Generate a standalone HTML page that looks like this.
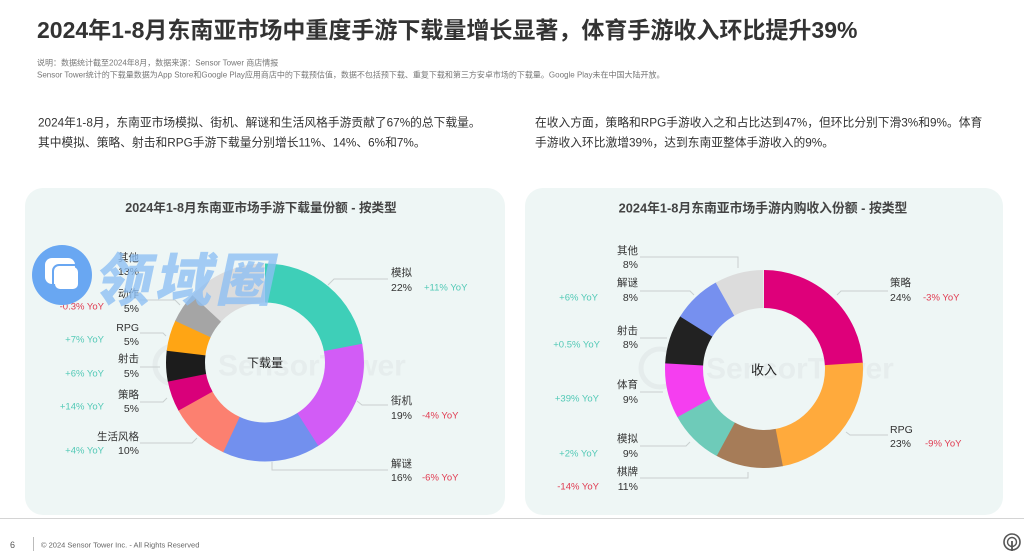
<!DOCTYPE html>
<html><head><meta charset="utf-8"><style>
html,body{margin:0;padding:0;background:#fff;}
body{width:1024px;height:551px;overflow:hidden;position:relative;font-family:"Liberation Sans","Noto Sans CJK SC",sans-serif;}
svg text{font-family:"Liberation Sans","Noto Sans CJK SC",sans-serif;}
.t{font-size:10.5px;fill:#333;}
.g{font-size:9.5px;fill:#52c9b6;}
.r{font-size:9.5px;fill:#e03a50;}
.ln{stroke:#c9cfcf;stroke-width:1;fill:none;}
</style></head><body>
<svg width="1024" height="551" viewBox="0 0 1024 551" xmlns="http://www.w3.org/2000/svg">
<!-- header -->
<text x="37" y="30" dominant-baseline="central" style="font-size:23px;font-weight:bold;fill:#333;">2024年1-8月东南亚市场中重度手游下载量增长显著，体育手游收入环比提升39%</text>
<text x="37" y="63" dominant-baseline="central" style="font-size:8px;fill:#777;">说明：数据统计截至2024年8月，数据来源：Sensor Tower 商店情报</text>
<text x="37" y="75" dominant-baseline="central" style="font-size:8px;fill:#777;">Sensor Tower统计的下载量数据为App Store和Google Play应用商店中的下载预估值，数据不包括预下载、重复下载和第三方安卓市场的下载量。Google Play未在中国大陆开放。</text>

<text x="38" y="123" dominant-baseline="central" style="font-size:11.75px;fill:#333;">2024年1-8月，东南亚市场模拟、街机、解谜和生活风格手游贡献了67%的总下载量。</text>
<text x="38" y="143" dominant-baseline="central" style="font-size:11.75px;fill:#333;">其中模拟、策略、射击和RPG手游下载量分别增长11%、14%、6%和7%。</text>
<text x="535" y="123" dominant-baseline="central" style="font-size:11.75px;fill:#333;">在收入方面，策略和RPG手游收入之和占比达到47%，但环比分别下滑3%和9%。体育</text>
<text x="535" y="143" dominant-baseline="central" style="font-size:11.75px;fill:#333;">手游收入环比激增39%，达到东南亚整体手游收入的9%。</text>

<!-- cards -->
<rect x="25" y="188" width="480" height="327" rx="18" fill="#eef6f5"/>
<rect x="525" y="188" width="478" height="327" rx="18" fill="#eef6f5"/>
<text x="261" y="208" text-anchor="middle" dominant-baseline="central" style="font-size:12.6px;font-weight:bold;fill:#444;">2024年1-8月东南亚市场手游下载量份额 - 按类型</text>
<text x="763" y="208" text-anchor="middle" dominant-baseline="central" style="font-size:12.8px;font-weight:bold;fill:#444;">2024年1-8月东南亚市场手游内购收入份额 - 按类型</text>

<!-- faint Sensor Tower watermarks -->
<circle cx="174" cy="365" r="19" fill="none" stroke="#e5ecec" stroke-width="5"/>
<text x="218" y="366" dominant-baseline="central" style="font-size:30px;font-weight:bold;fill:#e6eded;">SensorTower</text>
<circle cx="660" cy="368" r="19" fill="none" stroke="#e5ecec" stroke-width="5"/>
<text x="706" y="369" dominant-baseline="central" style="font-size:30px;font-weight:bold;fill:#e6eded;">SensorTower</text>

<!-- left donut -->
<g transform="rotate(-90 265 362.5)" fill="none" stroke-width="39">
<circle cx="265" cy="362.5" r="79.5" pathLength="100" stroke="#3ecfb8" stroke-dasharray="22.1 100" stroke-dashoffset="0"/>
<circle cx="265" cy="362.5" r="79.5" pathLength="100" stroke="#d25cf6" stroke-dasharray="19.1 100" stroke-dashoffset="-22"/>
<circle cx="265" cy="362.5" r="79.5" pathLength="100" stroke="#7290ee" stroke-dasharray="16.1 100" stroke-dashoffset="-41"/>
<circle cx="265" cy="362.5" r="79.5" pathLength="100" stroke="#fc8070" stroke-dasharray="10.1 100" stroke-dashoffset="-57"/>
<circle cx="265" cy="362.5" r="79.5" pathLength="100" stroke="#d9007a" stroke-dasharray="5.1 100" stroke-dashoffset="-67"/>
<circle cx="265" cy="362.5" r="79.5" pathLength="100" stroke="#1c1c1c" stroke-dasharray="5.1 100" stroke-dashoffset="-72"/>
<circle cx="265" cy="362.5" r="79.5" pathLength="100" stroke="#ffa514" stroke-dasharray="5.1 100" stroke-dashoffset="-77"/>
<circle cx="265" cy="362.5" r="79.5" pathLength="100" stroke="#a5a5a5" stroke-dasharray="5.1 100" stroke-dashoffset="-82"/>
<circle cx="265" cy="362.5" r="79.5" pathLength="100" stroke="#dcdcdc" stroke-dasharray="13 100" stroke-dashoffset="-87"/>
</g>
<text x="265" y="363" text-anchor="middle" dominant-baseline="central" style="font-size:12px;fill:#222;">下载量</text>

<!-- right donut -->
<g transform="rotate(-90 764 369)" fill="none" stroke-width="38">
<circle cx="764" cy="369" r="80" pathLength="100" stroke="#de007a" stroke-dasharray="24.1 100" stroke-dashoffset="0"/>
<circle cx="764" cy="369" r="80" pathLength="100" stroke="#ffaa3c" stroke-dasharray="23.1 100" stroke-dashoffset="-24"/>
<circle cx="764" cy="369" r="80" pathLength="100" stroke="#a67c58" stroke-dasharray="11.1 100" stroke-dashoffset="-47"/>
<circle cx="764" cy="369" r="80" pathLength="100" stroke="#6ecbb9" stroke-dasharray="9.1 100" stroke-dashoffset="-58"/>
<circle cx="764" cy="369" r="80" pathLength="100" stroke="#f53ef0" stroke-dasharray="9.1 100" stroke-dashoffset="-67"/>
<circle cx="764" cy="369" r="80" pathLength="100" stroke="#222222" stroke-dasharray="8.1 100" stroke-dashoffset="-76"/>
<circle cx="764" cy="369" r="80" pathLength="100" stroke="#7690ef" stroke-dasharray="8.1 100" stroke-dashoffset="-84"/>
<circle cx="764" cy="369" r="80" pathLength="100" stroke="#dcdcdc" stroke-dasharray="8 100" stroke-dashoffset="-92"/>
</g>
<text x="764" y="370" text-anchor="middle" dominant-baseline="central" style="font-size:13px;fill:#222;">收入</text>

<!-- leader lines left -->
<polyline class="ln" points="328,285 334,279 388,279"/>
<polyline class="ln" points="357,401 362,405 388,405"/>
<polyline class="ln" points="272,462 272,470 388,470"/>
<polyline class="ln" points="140,300 175,300 180,305"/>
<polyline class="ln" points="140,333 163,333 166,336"/>
<polyline class="ln" points="140,367 160,367"/>
<polyline class="ln" points="140,402 163,402 167,398"/>
<polyline class="ln" points="140,443 192,443 197,438"/>
<!-- leader lines right -->
<polyline class="ln" points="640,257 738,257 738,268"/>
<polyline class="ln" points="640,291 690,291 694,295"/>
<polyline class="ln" points="640,338 667,338"/>
<polyline class="ln" points="640,392 663,392"/>
<polyline class="ln" points="640,446 686,446 690,442"/>
<polyline class="ln" points="640,478 748,478 748,472"/>
<polyline class="ln" points="837,295 841,291 888,291"/>
<polyline class="ln" points="846,432 850,435 888,435"/>

<!-- left labels -->
<g text-anchor="end" dominant-baseline="central">
<text class="t" x="139" y="258">其他</text><text class="t" x="139" y="272">13%</text>
<text class="t" x="139" y="294">动作</text><text class="t" x="139" y="309">5%</text>
<text class="t" x="139" y="328">RPG</text><text class="t" x="139" y="342">5%</text>
<text class="t" x="139" y="359">射击</text><text class="t" x="139" y="374">5%</text>
<text class="t" x="139" y="395">策略</text><text class="t" x="139" y="409">5%</text>
<text class="t" x="139" y="437">生活风格</text><text class="t" x="139" y="451">10%</text>
<text class="r" x="104" y="307">-0.3% YoY</text>
<text class="g" x="104" y="340">+7% YoY</text>
<text class="g" x="104" y="374">+6% YoY</text>
<text class="g" x="104" y="407">+14% YoY</text>
<text class="g" x="104" y="451">+4% YoY</text>
</g>
<g dominant-baseline="central">
<text class="t" x="391" y="273">模拟</text><text class="t" x="391" y="288">22%</text><text class="g" x="424" y="288">+11% YoY</text>
<text class="t" x="391" y="401">街机</text><text class="t" x="391" y="416">19%</text><text class="r" x="422" y="416">-4% YoY</text>
<text class="t" x="391" y="464">解谜</text><text class="t" x="391" y="478">16%</text><text class="r" x="422" y="478">-6% YoY</text>
</g>

<!-- right labels -->
<g text-anchor="end" dominant-baseline="central">
<text class="t" x="638" y="251">其他</text><text class="t" x="638" y="265">8%</text>
<text class="t" x="638" y="283">解谜</text><text class="t" x="638" y="298">8%</text>
<text class="t" x="638" y="331">射击</text><text class="t" x="638" y="345">8%</text>
<text class="t" x="638" y="385">体育</text><text class="t" x="638" y="400">9%</text>
<text class="t" x="638" y="439">模拟</text><text class="t" x="638" y="454">9%</text>
<text class="t" x="638" y="472">棋牌</text><text class="t" x="638" y="487">11%</text>
<text class="g" x="598" y="298">+6% YoY</text>
<text class="g" x="600" y="345">+0.5% YoY</text>
<text class="g" x="599" y="399">+39% YoY</text>
<text class="g" x="598" y="454">+2% YoY</text>
<text class="r" x="599" y="487">-14% YoY</text>
</g>
<g dominant-baseline="central">
<text class="t" x="890" y="283">策略</text><text class="t" x="890" y="298">24%</text><text class="r" x="923" y="298">-3% YoY</text>
<text class="t" x="890" y="430">RPG</text><text class="t" x="890" y="444">23%</text><text class="r" x="925" y="444">-9% YoY</text>
</g>

<!-- 领域圈 watermark -->
<circle cx="62" cy="275" r="30" fill="#69a7f2"/>
<rect x="45" y="258" width="30" height="26" rx="7" fill="#fff"/>
<rect x="53" y="265" width="27" height="26" rx="6" fill="none" stroke="#69a7f2" stroke-width="2"/>
<rect x="55" y="267" width="23" height="22" rx="5" fill="#fff"/>
<g transform="translate(98,276) skewX(-12)">
<text x="0" y="0" dominant-baseline="central" style="font-size:57px;font-weight:900;fill:#8dbff4;fill-opacity:0.78;letter-spacing:4px;font-family:'Noto Sans CJK SC',sans-serif;">领域圈</text>
</g>

<!-- footer -->
<line x1="0" y1="518.5" x2="1024" y2="518.5" stroke="#d4d4d4" stroke-width="1"/>
<text x="10" y="545" dominant-baseline="central" style="font-size:9px;fill:#555;">6</text>
<line x1="33.5" y1="537" x2="33.5" y2="551" stroke="#bbb" stroke-width="1"/>
<text x="41" y="545" dominant-baseline="central" style="font-size:7.5px;fill:#666;">© 2024 Sensor Tower Inc. - All Rights Reserved</text>
<circle cx="1012" cy="542" r="8" fill="none" stroke="#555" stroke-width="1.6"/>
<circle cx="1012" cy="542" r="4.5" fill="none" stroke="#555" stroke-width="1.4"/>
<line x1="1012" y1="541" x2="1012" y2="551" stroke="#555" stroke-width="1.8"/>
</svg>
</body></html>
